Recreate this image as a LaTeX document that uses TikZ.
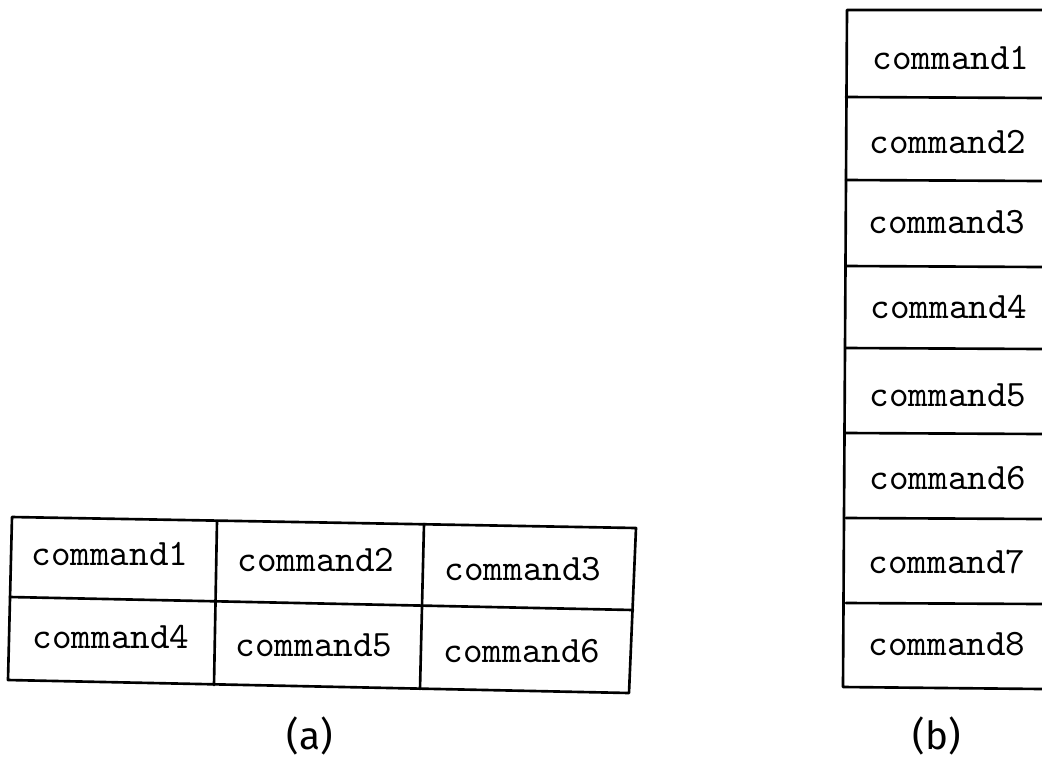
\documentclass[tikz,border=0pt]{standalone}
\usepackage{fontspec}
\newfontfamily\labfont{Fira Sans}
\begin{document}
\begin{tikzpicture}[x=0.01cm,y=-0.01cm,
  cell/.style={font=\ttfamily\fontsize{10.6}{12}\selectfont, inner sep=0pt, anchor=center},
  grid/.style={line width=0.75pt, line cap=round, line join=round},
  lab/.style={font=\labfont\fontsize{11}{13}\selectfont, inner sep=0pt}]
\useasboundingbox (0,0) rectangle (1042,757);
% ---- table (a)
\coordinate (aTL) at (12,517);
\coordinate (aTR) at (636,528);
\coordinate (aML) at (10,597);
\coordinate (aMR) at (633,610);
\coordinate (aBL) at (8,680);
\coordinate (aBR) at (629,693);
\coordinate (av1t) at (217,521);
\coordinate (av1b) at (214,685);
\coordinate (av2t) at (424,524);
\coordinate (av2b) at (420,689);
\draw[grid] (aTL) -- (aTR) -- (aBR) -- (aBL) -- cycle;
\draw[grid] (aML) -- (aMR);
\draw[grid] (av1t) -- (av1b);
\draw[grid] (av2t) -- (av2b);
\node[cell] (a1) at (110,554) {command1};
\node[cell] (a2) at (316,560) {command2};
\node[cell] (a3) at (523,569) {command3};
\node[cell] (a4) at (111,637) {command4};
\node[cell] (a5) at (314,645) {command5};
\node[cell] (a6) at (522,651) {command6};
\node[lab] (la) at (310,736) {(a)};
% ---- column (b)
\coordinate (bT) at (847,10);
\coordinate (bB) at (843,687);
\draw[grid] (1042,10) -- (bT) -- (bB) -- (1042,689);
\foreach \y/\yy in {97/98,180/181,266/267,348/349,433/434,518/519,603/604}{
  \draw[grid] (846,\y) -- (1042,\yy);
}
\node[cell] (b1) at (951,58) {command1};
\node[cell] (b2) at (948,142) {command2};
\node[cell] (b3) at (947,222) {command3};
\node[cell] (b4) at (949,307) {command4};
\node[cell] (b5) at (948,395) {command5};
\node[cell] (b6) at (948,478) {command6};
\node[cell] (b7) at (947,562) {command7};
\node[cell] (b8) at (947,644) {command8};
\node[lab] (lb) at (937,736) {(b)};
\end{tikzpicture}
\end{document}
